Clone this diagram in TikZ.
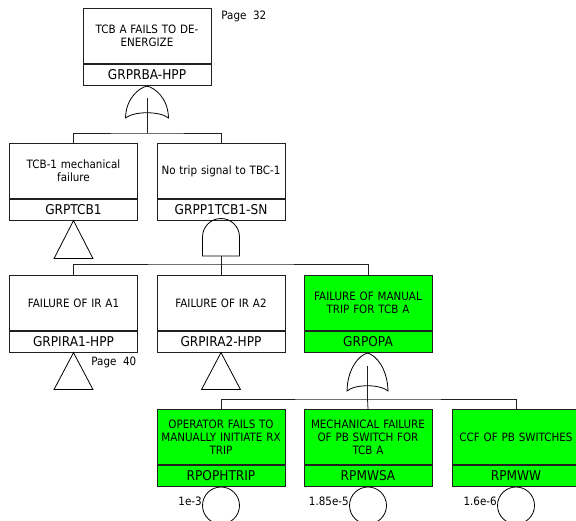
\documentclass[tikz,border=0pt]{standalone}
\usepackage{fontspec}
\setmainfont{DejaVu Sans}[FakeStretch=0.9]
\definecolor{evgreen}{HTML}{00FF00}
\definecolor{edge}{HTML}{202020}
\begin{document}
\begin{tikzpicture}[x=1pt,y=-1pt,line width=0.8pt,
  desc/.style={draw=edge, fill=#1, minimum width=128pt, minimum height=55pt,
    text width=124pt, align=center, inner sep=0pt, anchor=north,
    font=\fontsize{11.5}{13}\selectfont},
  desc/.default=white,
  idbar/.style={draw=edge, fill=#1, minimum width=128pt, minimum height=21pt,
    inner sep=0pt, anchor=north, font=\fontsize{13.5}{15}\selectfont},
  idbar/.default=white,
  wire/.style={draw=edge, line width=0.8pt},
  gateline/.style={draw=black, line width=0.8pt},
  lbl/.style={inner sep=0pt, font=\fontsize{11.5}{13}\selectfont},
]
\useasboundingbox (0,0) rectangle (576,521);
\clip (0,0) rectangle (576,521);

% ---------- boxes ----------
\node[desc] (top) at (147,8) {TCB A FAILS TO DE-\\ENERGIZE};
\node[idbar] (topid) at (top.south) {GRPRBA-HPP};

\node[desc] (tcb) at (73.5,143) {TCB-1 mechanical\\failure};
\node[idbar] (tcbid) at (tcb.south) {GRPTCB1};
\node[desc] (ntr) at (221,143) {No trip signal to TBC-1};
\node[idbar] (ntrid) at (ntr.south) {GRPP1TCB1-SN};

\node[desc] (ira1) at (73.5,275) {FAILURE OF IR A1};
\node[idbar] (ira1id) at (ira1.south) {GRPIRA1-HPP};
\node[desc] (ira2) at (221,275) {FAILURE OF IR A2};
\node[idbar] (ira2id) at (ira2.south) {GRPIRA2-HPP};
\node[desc=evgreen] (opa) at (368,275) {FAILURE OF MANUAL\\TRIP FOR TCB A};
\node[idbar=evgreen] (opaid) at (opa.south) {GRPOPA};

\node[desc=evgreen] (oph) at (221,409) {OPERATOR FAILS TO\\MANUALLY INITIATE RX\\TRIP};
\node[idbar=evgreen] (ophid) at (oph.south) {RPOPHTRIP};
\node[desc=evgreen] (mwsa) at (368,409) {MECHANICAL FAILURE\\OF PB SWITCH FOR\\TCB A};
\node[idbar=evgreen] (mwsaid) at (mwsa.south) {RPMWSA};
\node[desc=evgreen] (mww) at (516,409) {CCF OF PB SWITCHES};
\node[idbar=evgreen] (mwwid) at (mww.south) {RPMWW};

% ---------- page labels ----------
\node[lbl, anchor=west] (p32) at (221,16) {Page\ \ 32};
\node[lbl, anchor=west] (p40) at (91,362) {Page\ \ 40};

% ---------- gate 1 (OR) under top ----------
\coordinate (g1) at (147,86);
\draw[gateline] (g1) .. controls (155,88) and (168,98) .. (168.5,118)
  .. controls (160,111) and (134,111) .. (125.5,118)
  .. controls (126,98) and (139,88) .. (g1);
\coordinate (g1out) at (147,98);
\coordinate (g1bus) at (147,133);
\draw[wire] (topid.south) -- (g1);
\draw[wire] (g1out) -- (g1bus);
\draw[wire] (tcb.north) |- (g1bus) -| (ntr.north);

% ---------- transfer triangles ----------
\draw[gateline] (tcbid.south) -- ++(19.5,38) -- ++(-39,0) -- cycle;
\draw[gateline] (ira1id.south) -- ++(19.5,37) -- ++(-39,0) -- cycle;
\draw[gateline] (ira2id.south) -- ++(19.5,37) -- ++(-39,0) -- cycle;

% ---------- gate 2 (AND) under ntr ----------
\draw[gateline] (202.5,256) -- (202.5,237) arc[start angle=180, end angle=360, radius=18.5] -- (239.5,256) -- cycle;
\coordinate (g2out) at (221,256);
\coordinate (g2bus) at (221,264);
\draw[wire] (g2out) -- (g2bus);
\draw[wire] (ira1.north) |- (g2bus) -| (opa.north);
\draw[wire] (g2bus) -- (ira2.north);

% ---------- gate 3 (OR) under opa ----------
\coordinate (g3) at (367.5,353);
\draw[gateline] (g3) .. controls (375.5,355) and (387.5,368) .. (388,391)
  .. controls (380,384) and (355,384) .. (347,391)
  .. controls (347.5,368) and (359.5,355) .. (g3);
\coordinate (g3out) at (367.5,366);
\coordinate (g3bus) at (367.5,399);
\draw[wire] (opaid.south) -- (g3);
\draw[wire] (g3out) -- (g3bus);
\draw[wire] (oph.north) |- (g3bus) -| (mww.north);
\draw[wire] (g3bus) -- (mwsa.north);

% ---------- basic events ----------
\node[draw=black, line width=0.8pt, circle, minimum size=37pt, inner sep=0pt, anchor=north] (c1) at (ophid.south) {};
\node[draw=black, line width=0.8pt, circle, minimum size=37pt, inner sep=0pt, anchor=north] (c2) at (mwsaid.south) {};
\node[draw=black, line width=0.8pt, circle, minimum size=37pt, inner sep=0pt, anchor=north] (c3) at (mwwid.south) {};
\node[lbl, anchor=east] (v1) at ([yshift=4pt]c1.west) {1e-3};
\node[lbl, anchor=east] (v2) at ([yshift=4pt]c2.west) {1.85e-5};
\node[lbl, anchor=east] (v3) at ([yshift=4pt]c3.west) {1.6e-6};
\end{tikzpicture}
\end{document}
